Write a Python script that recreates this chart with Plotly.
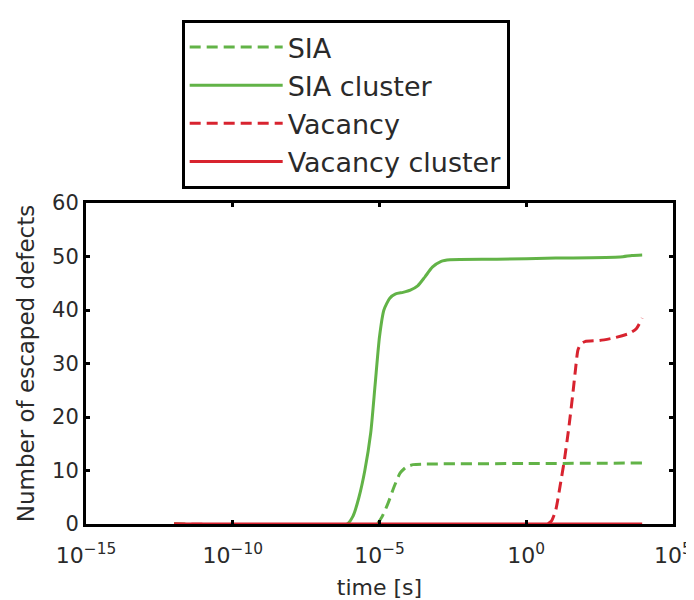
import plotly.graph_objects as go

# ---- data ----
sia_cluster_t = [1e-12, 10**-6.1, 10**-5.9, 10**-5.7, 10**-5.5, 10**-5.3, 10**-5.15, 10**-5.0, 10**-4.85,
                 10**-4.65, 10**-4.45, 10**-4.2, 10**-3.95, 10**-3.7, 10**-3.45, 10**-3.2, 10**-2.9,
                 10**-2.6, 10**-1, 10**1, 10**3.2, 10**3.6, 10**3.95]
sia_cluster_y = [0, 0, 1.5, 5, 10, 17, 26, 35, 40, 42.2, 43, 43.3, 43.7, 44.5, 46.2, 48, 49.1,
                 49.4, 49.5, 49.7, 49.9, 50.2, 50.3]

sia_t = [1e-12, 10**-5.1, 10**-4.9, 10**-4.7, 10**-4.5, 10**-4.3, 10**-4.1, 10**-3.85, 10**-3.5,
         1e0, 10**3.95]
sia_y = [0, 0, 1.5, 4, 7, 9.5, 10.6, 11.1, 11.2, 11.3, 11.4]

vac_t = [1e-12, 10**0.7, 10**0.85, 10**1.0, 10**1.15, 10**1.3, 10**1.45, 10**1.58, 10**1.68,
         10**1.76, 10**1.85, 10**2.0, 10**2.5, 10**3.0, 10**3.5, 10**3.75, 10**3.95]
vac_y = [0, 0, 0.5, 2.5, 7, 12, 18, 24, 29, 32.5, 33.6, 34.1, 34.3, 34.8, 35.6, 36.5, 38.5]

vac_cluster_t = [1e-12, 10**3.95]
vac_cluster_y = [0, 0]

x_tickvals = [1e-15, 1e-10, 1e-5, 1e0, 1e5]
x_ticktext = ["10<sup>−15</sup>", "10<sup>−10</sup>", "10<sup>−5</sup>", "10<sup>0</sup>", "10<sup>5</sup>"]
y_tickvals = [0, 10, 20, 30, 40, 50, 60]

GREEN = "#62b347"
RED = "#d8232f"
FONT = "DejaVu Sans"
TXT = "#2a2a2a"
DASH = "11px,6px"

fig = go.Figure()
fig.add_trace(go.Scatter(x=sia_t, y=sia_y, mode="lines", name="SIA",
                         line=dict(color=GREEN, width=3, dash=DASH, shape="spline", smoothing=0.6)))
fig.add_trace(go.Scatter(x=sia_cluster_t, y=sia_cluster_y, mode="lines", name="SIA cluster",
                         line=dict(color=GREEN, width=3, shape="spline", smoothing=0.6)))
fig.add_trace(go.Scatter(x=vac_t, y=vac_y, mode="lines", name="Vacancy",
                         line=dict(color=RED, width=3, dash=DASH, shape="spline", smoothing=0.6)))
fig.add_trace(go.Scatter(x=vac_cluster_t, y=vac_cluster_y, mode="lines", name="Vacancy cluster",
                         line=dict(color=RED, width=3)))

fig.update_layout(
    width=694, height=600,
    margin=dict(l=78, r=29, t=184, b=84),
    paper_bgcolor="white", plot_bgcolor="white",
    font=dict(family=FONT, color=TXT, size=21),
    showlegend=True,
    legend=dict(x=0.163, y=1.57, xanchor="left", yanchor="top",
                bordercolor="black", borderwidth=3, bgcolor="white",
                font=dict(family=FONT, size=27, color=TXT),
                itemwidth=93, tracegroupgap=0),
    xaxis=dict(type="log", range=[-15, 5], tickvals=x_tickvals, ticktext=x_ticktext,
               automargin=False,
               showgrid=False, zeroline=False, showline=True, linecolor="black", linewidth=3,
               mirror="ticks", ticks="inside", ticklen=4, tickwidth=3, tickcolor="black",
               ticklabelstandoff=10,
               tickfont=dict(size=22), title=dict(text="time [s]", font=dict(size=22), standoff=13)),
    yaxis=dict(range=[0, 60], tickvals=y_tickvals, automargin=False,
               showgrid=False, zeroline=False, showline=True, linecolor="black", linewidth=3,
               mirror="ticks", ticks="inside", ticklen=4, tickwidth=3, tickcolor="black",
               tickfont=dict(size=21), title=dict(text="Number of escaped defects", font=dict(size=23), standoff=12)),
)

fig.write_html("out.html")
